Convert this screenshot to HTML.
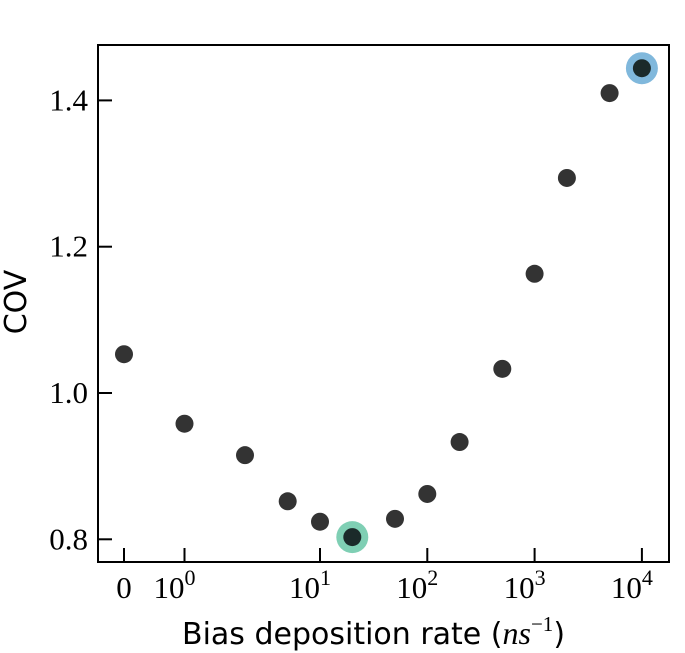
<!DOCTYPE html>
<html><head><meta charset="utf-8"><style>
html,body{margin:0;padding:0;background:#fff;}
svg{display:block;}
.tk{font-family:"Liberation Serif","DejaVu Serif",serif;font-size:31px;fill:#000;}
.lb{font-family:"DejaVu Sans","Liberation Sans",sans-serif;font-size:30px;fill:#000;}
</style></head><body>
<svg id="chart" width="685" height="653" viewBox="0 0 685 653" xmlns="http://www.w3.org/2000/svg">
<rect x="98" y="45" width="571" height="517" fill="none" stroke="#000" stroke-width="2"/>
<g id="ticks"></g>
<g id="points"></g>
<text class="lb" transform="translate(26,302) rotate(-90)" text-anchor="middle">COV</text>
<text class="lb" x="182" y="644">Bias deposition rate (<tspan font-family="Liberation Serif,serif" font-style="italic" font-size="32">ns</tspan><tspan font-family="Liberation Serif,serif" font-size="21" dy="-13">−1</tspan><tspan dy="13">)</tspan></text>
</svg>
<script>
const rates=[0,1,2,5,10,20,50,100,200,500,1000,2000,5000,10000];
const covValues=[1.053,0.958,0.915,0.852,0.824,0.803,0.828,0.862,0.933,1.033,1.163,1.294,1.410,1.444];
const highlightRates=[20,10000];
const highlightColors=["#7fcfb4","#80b8dc"];
const yTicks=[0.8,1.0,1.2,1.4];
const yTickLabels=["0.8","1.0","1.2","1.4"];
const xTicks=[0,1,10,100,1000,10000];
const xTickExps=["","0","1","2","3","4"];

function xs(v){ if(v<=2) return 124+v*60.5; return 245+107.3*Math.log10(v/2); }
function ys(v){ return 393-(v-1.0)*731.5; }
const NS="http://www.w3.org/2000/svg";
const tg=document.getElementById('ticks'), pg=document.getElementById('points');
function mk(tag,attrs,parent){const e=document.createElementNS(NS,tag);for(const k in attrs)e.setAttribute(k,attrs[k]);parent.appendChild(e);return e;}
yTicks.forEach((t,i)=>{
  const y=ys(t);
  const l=mk('line',{x1:98,x2:112,y1:y,y2:y,stroke:'#000','stroke-width':2},tg);
  
  
  const tx=mk('text',{x:88,y:y+10,'text-anchor':'end',class:'tk'},tg);
  
  
  tx.textContent=yTickLabels[i];
});
xTicks.forEach((t,i)=>{
  const x=xs(t);
  const l=mk('line',{x1:x,x2:x,y1:548,y2:562,stroke:'#000','stroke-width':2},tg);
  
  
  const tx=mk('text',{x:x,y:598,'text-anchor':'middle',class:'tk'},tg);
  
  
  if(xTickExps[i]===""){tx.textContent="0";}
  else{
    tx.setAttribute('x',x-10);
    tx.textContent="10";
    const s=document.createElementNS(NS,'tspan');
    s.setAttribute('font-size','22');s.setAttribute('dy','-13');
    s.textContent=xTickExps[i];tx.appendChild(s);
  }
});
rates.forEach((r,i)=>{
  const cx=xs(r), cy=ys(covValues[i]);
  const h=highlightRates.indexOf(r);
  if(h>=0){
    const hc=mk('circle',{cx:cx,cy:cy,r:16,fill:highlightColors[h]},pg);
    
    
    const c=mk('circle',{cx:cx,cy:cy,r:9,fill:'#1b2a2a'},pg);
    
    
  } else {
    const c=mk('circle',{cx:cx,cy:cy,r:9,fill:'#333333'},pg);
    
    
  }
});
</script>
</body></html>
